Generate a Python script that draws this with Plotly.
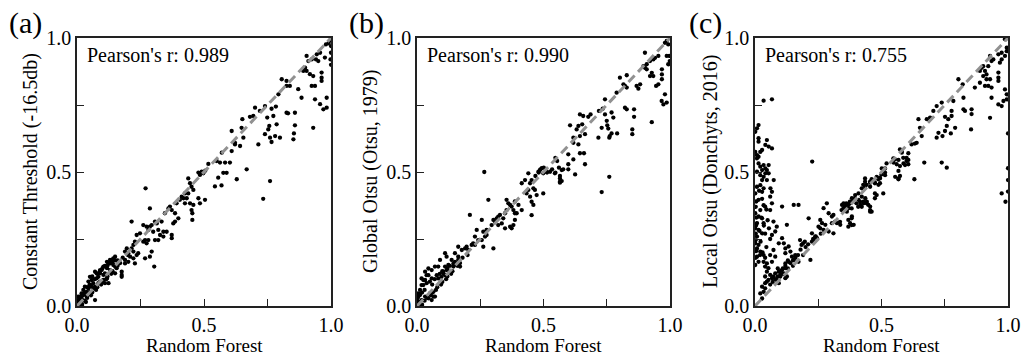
import plotly.graph_objects as go

# ---------------- data (Random Forest fraction vs. other method) ----------------
panel_labels = ["(a)", "(b)", "(c)"]
y_titles = ["Constant Threshold (-16.5db)", "Global Otsu (Otsu, 1979)", "Local Otsu (Donchyts, 2016)"]
pearson = ["0.989", "0.990", "0.755"]
x_title = "Random Forest"
tick_vals = [0, 0.25, 0.5, 0.75, 1.0]
tick_text = ["0.0", "", "0.5", "", "1.0"]

pts_a = [
    (.99, .98), (1.0, .97), (.98, .976), (.995, .99), (1.0, .945), (.998, .92), (1.0, .90), (.976, .927),
    (.957, .945), (.944, .939), (.95, .914), (.904, .933), (.924, .92), (.941, .92), (.911, .914), (.898, .889),
    (.904, .877), (.891, .877), (.917, .865), (.930, .858), (.924, .821), (.937, .821), (.963, .871), (.963, .852),
    (.963, .840), (.937, .771), (.957, .753), (.970, .734), (.983, .740), (.983, .777), (.930, .665), (.871, .809),
    (.884, .777), (.825, .840), (.806, .846), (.825, .821), (.838, .821), (.793, .790), (.783, .744), (.766, .736),
    (.740, .746), (.720, .728), (.701, .740), (.694, .709), (.681, .706), (.651, .697), (.648, .665), (.609, .653),
    (.655, .628), (.622, .609), (.622, .603), (.642, .597), (.749, .703), (.773, .709), (.786, .678), (.757, .672),
    (.753, .659), (.740, .641), (.760, .628), (.766, .612), (.780, .634), (.799, .628), (.825, .721), (.831, .719),
    (.858, .721), (.858, .674), (.854, .644), (.852, .622), (.714, .603), (.668, .510), (.760, .466), (.629, .473),
    (.570, .572), (.609, .578), (.602, .535), (.589, .497), (.583, .535), (.563, .535), (.550, .541), (.576, .497),
    (.556, .479), (.733, .400), (.569, .450), (.543, .446),
    (.517, .530), (.497, .495), (.484, .489), (.478, .498), (.491, .501), (.505, .505), (.438, .476), (.445, .458),
    (.451, .445), (.438, .420), (.458, .433), (.432, .402), (.412, .408), (.425, .383), (.445, .383), (.458, .377),
    (.478, .402), (.484, .383), (.504, .396), (.451, .358), (.454, .346), (.454, .321), (.270, .439), (.287, .364),
    (.215, .315), (.307, .315), (.314, .308), (.333, .315), (.346, .346), (.360, .364), (.366, .371), (.373, .358),
    (.386, .346), (.399, .327), (.386, .315), (.379, .308), (.392, .383), (.405, .396), (.419, .402), (.425, .420),
    (.261, .302), (.274, .296), (.281, .284), (.287, .296), (.294, .302), (.300, .277), (.320, .284), (.327, .265),
    (.340, .277), (.353, .277), (.307, .246), (.320, .246), (.340, .259), (.373, .265), (.373, .253), (.235, .265),
    (.248, .271), (.261, .240), (.274, .234), (.281, .246), (.268, .246), (.294, .203), (.287, .184), (.268, .178),
    (.304, .147), (.228, .240), (.222, .228), (.215, .215), (.196, .215), (.189, .203), (.202, .197), (.209, .184),
    (.222, .178), (.228, .159), (.235, .190), (.241, .197), (.222, .203), (.189, .172), (.202, .165), (.189, .159),
    (.176, .109), (.150, .184), (.163, .159), (.150, .147), (.156, .141), (.143, .153), (.137, .172), (.124, .159),
    (.130, .134), (.118, .141), (.110, .122), (.097, .134), (.104, .116), (.091, .122), (.084, .109), (.077, .103),
    (.071, .128), (.058, .097), (.051, .109), (.045, .091), (.064, .085), (.071, .072), (.031, .072), (.038, .053),
    (.025, .060), (.018, .047), (.012, .035), (.005, .022), (.002, .016), (.130, .159), (.143, .172), (.176, .128),
    (.176, .116), (.071, .022), (.051, .053), (.064, .066), (.104, .097), (.118, .103), (.124, .085), (.137, .128),
    (.150, .122), (.084, .085), (.091, .091), (.110, .085), (.005, .035), (.012, .022), (.018, .029), (.025, .041),
    (.002, .010), (.018, .010), (.038, .035), (.031, .047), (.045, .066), (.051, .078), (.058, .072), (.077, .122),
    (.091, .134), (.104, .147), (.118, .165), (.130, .172), (.143, .178),
    (.03, .02), (.04, .03), (.06, .05), (.08, .07), (.10, .09), (.12, .11), (.14, .13), (.16, .15), (.02, .005),
    (.01, .005), (.035, .015), (.055, .04), (.075, .06), (.095, .08), (.115, .10), (.135, .12), (.16, .17),
    (.18, .18), (.20, .19), (.17, .16), (.06, .11), (.08, .12), (.10, .14), (.12, .15), (.13, .16), (.11, .15),
    (.09, .13), (.07, .10), (.05, .08), (.04, .07), (.03, .05), (.02, .04), (.01, .03), (.15, .17), (.14, .16),
]

pts_b = [
    (.987, .989), (.993, .976), (.980, .982), (.997, .933), (.999, .914), (.993, .902), (.901, .945), (.954, .933),
    (.941, .926), (.934, .920), (.921, .914), (.908, .902), (.901, .889), (.895, .895), (.908, .883), (.928, .870),
    (.921, .858), (.934, .858), (.968, .883), (.968, .864), (.968, .846), (.945, .821), (.954, .827), (.980, .790),
    (.967, .765), (.974, .752), (.987, .759), (.928, .686), (.987, .933), (.802, .852), (.829, .861), (.822, .821),
    (.816, .827), (.868, .821), (.882, .827), (.875, .811), (.789, .796), (.829, .815), (.743, .771), (.734, .736),
    (.719, .728), (.686, .715), (.677, .706), (.644, .715), (.657, .709), (.653, .678), (.638, .672), (.631, .659),
    (.605, .674), (.664, .641), (.644, .634), (.618, .628), (.638, .603), (.618, .609), (.743, .715), (.769, .722),
    (.776, .703), (.750, .691), (.752, .674), (.756, .662), (.730, .665), (.762, .634), (.769, .644), (.791, .644),
    (.760, .628), (.717, .628), (.822, .740), (.829, .734), (.858, .734), (.858, .706), (.851, .659), (.851, .641),
    (.664, .529), (.760, .482), (.644, .570), (.660, .570), (.598, .566), (.618, .547), (.598, .529), (.578, .510),
    (.565, .485), (.572, .466), (.598, .510), (.547, .553), (.554, .541), (.561, .516), (.547, .498), (.534, .510),
    (.514, .498), (.501, .516), (.488, .510), (.481, .498), (.468, .485), (.625, .491), (.565, .460), (.730, .425),
    (.266, .500), (.282, .396), (.209, .340), (.256, .321), (.236, .284), (.262, .277), (.275, .284), (.295, .302),
    (.302, .321), (.308, .315), (.315, .327), (.321, .333), (.328, .340), (.341, .327), (.348, .346), (.354, .358),
    (.361, .383), (.354, .396), (.368, .377), (.374, .371), (.387, .390), (.401, .377), (.414, .358), (.381, .358),
    (.387, .346), (.321, .302), (.335, .308), (.348, .290), (.368, .296), (.374, .290), (.381, .302), (.394, .346),
    (.387, .321), (.414, .458), (.427, .470), (.440, .495), (.453, .470), (.447, .458), (.460, .439), (.466, .433),
    (.440, .433), (.433, .420), (.447, .408), (.453, .389), (.460, .377), (.453, .339), (.480, .501), (.486, .507),
    (.493, .514), (.499, .495), (.512, .501), (.499, .420), (.473, .414), (.526, .501), (.545, .495), (.565, .476),
    (.565, .464), (.572, .507), (.229, .259), (.222, .234), (.216, .228), (.196, .221), (.190, .215), (.203, .209),
    (.229, .228), (.242, .246), (.256, .246), (.269, .259), (.275, .265), (.163, .221), (.177, .209), (.262, .221),
    (.302, .215), (.150, .197), (.163, .184), (.137, .172), (.144, .159), (.124, .153), (.117, .134), (.111, .147),
    (.104, .122), (.111, .197), (.117, .184), (.091, .172), (.084, .147), (.071, .147), (.058, .134), (.045, .115),
    (.032, .097), (.018, .103), (.025, .078), (.012, .060), (.005, .047), (.002, .029), (.005, .016), (.065, .053),
    (.051, .047), (.071, .035), (.130, .128), (.144, .147), (.157, .153), (.170, .147), (.163, .172), (.150, .165),
    (.078, .115), (.084, .103), (.097, .109), (.111, .115), (.104, .128), (.038, .115), (.032, .128), (.045, .140),
    (.018, .078), (.025, .097), (.038, .085), (.051, .091), (.058, .103), (.005, .035), (.012, .041), (.018, .022),
    (.002, .010), (.032, .035), (.045, .029), (.058, .022), (.065, .035),
    (.03, .02), (.04, .03), (.06, .05), (.08, .07), (.10, .09), (.12, .11), (.14, .13), (.16, .15), (.02, .005),
    (.01, .005), (.055, .04), (.075, .06), (.095, .08), (.115, .10), (.135, .12), (.18, .18), (.20, .19),
    (.17, .16), (.06, .08), (.07, .10), (.09, .12), (.10, .13), (.12, .14), (.13, .15), (.02, .05), (.03, .06),
]

pts_c = [
    (.988, .995), (.995, .964), (.995, .951), (.988, .933), (.975, .945), (.962, .939), (.975, .920), (.968, .908),
    (.942, .920), (.935, .914), (.929, .933), (.922, .895), (.902, .895), (.896, .889), (.909, .877), (.915, .864),
    (.889, .877), (.902, .858), (.915, .846), (.929, .846), (.922, .821), (.935, .815), (.962, .871), (.962, .852),
    (.962, .840), (.935, .777), (.962, .752), (.975, .746), (.982, .765), (.929, .702), (.988, .808), (.995, .790),
    (.995, .771), (.869, .815), (.909, .821), (.889, .833), (.804, .846), (.821, .827), (.824, .777), (.784, .765),
    (.777, .728), (.777, .709), (.751, .706), (.764, .697), (.738, .759), (.718, .746), (.705, .728), (.692, .703),
    (.679, .697), (.824, .734), (.830, .728), (.856, .734), (.856, .716), (.791, .665), (.758, .672), (.751, .653),
    (.741, .634), (.718, .628), (.725, .646), (.774, .644), (.854, .659), (.738, .535), (.758, .516), (.669, .535),
    (.630, .473), (.646, .697), (.652, .665), (.659, .634), (.639, .609), (.632, .606), (.619, .603), (.573, .584),
    (.580, .572), (.586, .553), (.599, .553), (.606, .529), (.599, .541), (.553, .547), (.547, .535), (.560, .529),
    (.573, .522), (.567, .504), (.573, .485), (.567, .473), (.514, .498), (.500, .491), (.494, .479), (.487, .473),
    (.461, .473), (.455, .460), (.474, .460), (1.0, .514), (1.0, .470), (1.0, .427), (.975, .420), (.990, .389),
    (1.0, .644), (.606, .570), (.580, .576), (.567, .545), (.547, .551), (.587, .532), (.606, .545), (.593, .526),
    (.520, .532), (.514, .513), (.501, .513), (.554, .482), (.567, .476), (.514, .488), (.494, .476), (.481, .482),
    (.468, .470), (.455, .464), (.474, .458), (.488, .452), (.494, .458), (.435, .476), (.428, .452), (.422, .439),
    (.435, .445), (.441, .452), (.455, .445), (.474, .420), (.507, .420), (.474, .402), (.481, .414), (.361, .383),
    (.375, .389), (.388, .395), (.395, .402), (.401, .383), (.408, .370), (.415, .389), (.428, .389), (.441, .383),
    (.448, .377), (.422, .370), (.349, .364), (.355, .370), (.369, .377), (.342, .358), (.362, .358), (.382, .364),
    (.455, .358), (.461, .352), (.382, .327), (.369, .321), (.382, .302), (.369, .296), (.336, .314), (.435, .464),
    (.060, .408), (.067, .383), (.060, .358), (.107, .371), (.153, .377), (.172, .377), (.126, .303), (.073, .315),
    (.086, .296), (.080, .278), (.067, .265), (.107, .253), (.094, .234), (.114, .234), (.120, .215), (.133, .222),
    (.140, .203), (.120, .197), (.073, .209), (.080, .184), (.060, .190), (.067, .165), (.146, .184), (.159, .190),
    (.153, .172), (.172, .165), (.133, .165), (.120, .159), (.040, .147), (.053, .141), (.047, .128), (.060, .116),
    (.073, .110), (.080, .122), (.094, .128), (.107, .134), (.120, .141), (.100, .116), (.114, .122), (.040, .110),
    (.047, .091), (.040, .085), (.053, .097), (.067, .104), (.086, .097), (.094, .085), (.120, .104), (.126, .110),
    (.028, .072), (.034, .053), (.021, .047), (.028, .028), (.040, .066), (.178, .246), (.190, .234), (.184, .228),
    (.197, .240), (.225, .271), (.238, .259), (.231, .246), (.245, .253), (.225, .240), (.219, .172), (.212, .327),
    (.258, .321), (.265, .309), (.251, .296), (.258, .290), (.271, .284), (.291, .278), (.278, .303), (.271, .365),
    (.284, .383), (.291, .346), (.304, .334), (.310, .340), (.317, .315), (.324, .309), (.337, .303), (.304, .309),
    (.310, .271), (.344, .377), (.350, .383), (.357, .371), (.370, .365), (.376, .383), (.383, .402), (.363, .352),
    (.383, .334), (.376, .309), (.390, .303), (.409, .396), (.416, .377), (.429, .383), (.442, .389), (.455, .371),
    (.455, .352), (.396, .414), (.409, .420), (.422, .408), (.436, .402),
    (.034, .766), (.067, .771), (.014, .675), (.008, .663), (.001, .650), (.014, .626), (.014, .613), (.047, .619),
    (.041, .601), (.054, .595), (.067, .588), (.001, .575), (.008, .563), (.014, .557), (.021, .575), (.028, .582),
    (.008, .551), (.014, .532), (.021, .520), (.034, .526), (.054, .526), (.047, .507), (.041, .513), (.028, .507),
    (.008, .501), (.021, .488), (.034, .482), (.041, .495), (.054, .495), (.074, .470), (.047, .470), (.028, .470),
    (.008, .445), (.021, .451), (.034, .439), (.061, .439), (.067, .426), (.028, .426), (.226, .539),
    (.001, .420), (.016, .430), (.014, .396), (.028, .400), (.034, .376), (.040, .371), (.021, .358), (.001, .346),
    (.014, .334), (.028, .327), (.008, .309), (.034, .309), (.001, .290), (.014, .284), (.028, .271), (.008, .259),
    (.001, .234), (.014, .228), (.008, .215), (.021, .203), (.034, .190), (.008, .184), (.014, .165), (.001, .153),
    (.034, .165), (.047, .159), (.005, .390), (.003, .370), (.006, .330), (.004, .300), (.003, .270), (.002, .245),
    (.005, .205), (.003, .180), (.018, .280), (.022, .240), (.020, .190), (.025, .330), (.035, .300), (.040, .270),
    (.045, .360), (.050, .320), (.055, .290), (.060, .250), (.045, .220), (.030, .200), (.040, .180),
    (.10, .13), (.12, .15), (.13, .14), (.15, .17), (.16, .18), (.17, .19), (.14, .16), (.11, .12), (.09, .11),
    (.08, .10), (.07, .09), (.06, .08), (.18, .21), (.20, .22), (.19, .19), (.21, .23), (.23, .25), (.24, .26),
    (.26, .27), (.11, .14), (.13, .17), (.15, .15), (.09, .14), (.10, .11),
]

all_pts = [pts_a, pts_b, pts_c]

# ---------------- layout geometry ----------------
W, H = 1022, 356
x_doms = [(77, 331), (417, 670), (755, 1008)]
y_dom = (38, 306)
ytitle_x = [30, 370, 710]
label_x = [7, 347, 687]
FONT = "Liberation Serif"

fig = go.Figure()

for i, pts in enumerate(all_pts):
    xs = [p[0] for p in pts]
    ys = [p[1] for p in pts]
    suffix = "" if i == 0 else str(i + 1)
    fig.add_trace(go.Scatter(
        x=xs, y=ys, mode="markers",
        marker=dict(color="black", size=4.3, line=dict(width=0)),
        xaxis="x" + suffix, yaxis="y" + suffix, showlegend=False,
    ))
    fig.add_trace(go.Scatter(
        x=[0, 1], y=[0, 1], mode="lines",
        line=dict(color="rgb(145,145,145)", width=3, dash="9px,5px"),
        xaxis="x" + suffix, yaxis="y" + suffix, showlegend=False,
    ))

layout = dict(
    width=W, height=H,
    margin=dict(l=0, r=0, t=0, b=0, autoexpand=False),
    paper_bgcolor="white", plot_bgcolor="white",
    font=dict(family=FONT, color="black"),
    annotations=[],
)

axis_common = dict(
    range=[0, 1], showgrid=False, zeroline=False, automargin=False,
    showline=True, mirror=True, linecolor="#222", linewidth=1.5,
    ticks="inside", ticklen=7, tickwidth=1.2, tickcolor="#222",
    tickvals=tick_vals, ticktext=tick_text,
    tickfont=dict(family=FONT, size=20, color="black"),
)

for i in range(3):
    suffix = "" if i == 0 else str(i + 1)
    x0, x1 = x_doms[i]
    layout["xaxis" + suffix] = dict(
        axis_common, domain=[x0 / W, x1 / W], anchor="y" + suffix,
    )
    layout["yaxis" + suffix] = dict(
        axis_common, domain=[1 - y_dom[1] / H, 1 - y_dom[0] / H], anchor="x" + suffix,
    )
    xref = "x" + suffix
    yref = "y" + suffix
    layout["annotations"].append(dict(
        x=0.03, y=0.935, xref=xref, yref=yref, xanchor="left", yanchor="middle",
        text="Pearson's r: " + pearson[i], showarrow=False,
        font=dict(family=FONT, size=20, color="black"),
    ))
    layout["annotations"].append(dict(
        x=label_x[i] / W, y=1 - 23 / H, xref="paper", yref="paper",
        xanchor="left", yanchor="middle", text=panel_labels[i], showarrow=False,
        font=dict(family=FONT, size=30, color="black"),
    ))
    layout["annotations"].append(dict(
        x=ytitle_x[i] / W, y=1 - (y_dom[0] + y_dom[1]) / 2 / H, xref="paper", yref="paper",
        xanchor="center", yanchor="middle", text=y_titles[i], textangle=-90, showarrow=False,
        font=dict(family=FONT, size=20, color="black"),
    ))
    layout["annotations"].append(dict(
        x=(x0 + x1) / 2 / W, y=1 - 345 / H, xref="paper", yref="paper",
        xanchor="center", yanchor="middle", text=x_title, showarrow=False,
        font=dict(family=FONT, size=19, color="black"),
    ))

fig.update_layout(**layout)
fig.write_html("out.html")
